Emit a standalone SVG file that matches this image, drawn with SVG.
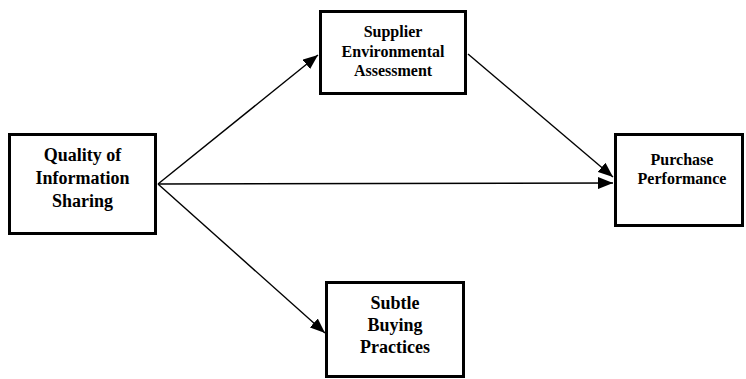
<svg xmlns="http://www.w3.org/2000/svg" width="746" height="379" viewBox="0 0 746 379">
<style>
.box{fill:#fff;stroke:#000;stroke-width:3}
.lbl{font-family:"Liberation Serif","Times New Roman",serif;font-weight:bold;text-anchor:middle;fill:#000}
.s18{font-size:18px}
.s16{font-size:16px}
.edge{stroke:#000;stroke-width:1.4;fill:none;marker-end:url(#ah)}
</style>
<defs>
<marker id="ah" viewBox="0 0 15 12" refX="15" refY="6" markerWidth="15" markerHeight="12" markerUnits="userSpaceOnUse" orient="auto">
<path d="M0,0 L15,6 L0,12 z" fill="#000"/>
</marker>
</defs>
<rect width="746" height="379" fill="#fff"/>
<g id="connectors">
<line class="edge" x1="158" y1="184" x2="318" y2="55"/>
<line class="edge" x1="158" y1="184" x2="613" y2="183"/>
<line class="edge" x1="468" y1="54" x2="613" y2="177"/>
<line class="edge" x1="158" y1="184" x2="325" y2="333"/>
</g>
<g id="quality">
<rect class="box" x="9.5" y="134.5" width="146" height="99"/>
<text class="lbl s18" x="82.5" y="161">Quality of</text>
<text class="lbl s18" x="82.5" y="184">Information</text>
<text class="lbl s18" x="82.5" y="207">Sharing</text>
</g>
<g id="supplier">
<rect class="box" x="320.5" y="11.5" width="145" height="82"/>
<text class="lbl s16" x="393" y="37">Supplier</text>
<text class="lbl s16" x="393" y="57">Environmental</text>
<text class="lbl s16" x="393" y="76">Assessment</text>
</g>
<g id="purchase">
<rect class="box" x="615.5" y="134.5" width="127" height="91"/>
<text class="lbl s16" x="682" y="165">Purchase</text>
<text class="lbl s16" x="682" y="184">Performance</text>
</g>
<g id="subtle">
<rect class="box" x="326.5" y="282.5" width="137" height="94"/>
<text class="lbl s18" x="395" y="309">Subtle</text>
<text class="lbl s18" x="395" y="331">Buying</text>
<text class="lbl s18" x="395" y="353">Practices</text>
</g>
</svg>
